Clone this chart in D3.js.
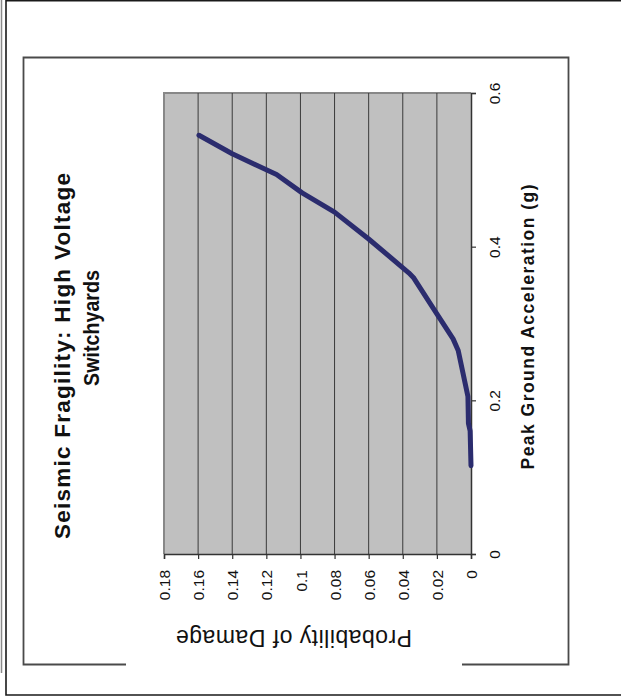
<!DOCTYPE html>
<html>
<head>
<meta charset="utf-8">
<script src="https://cdn.jsdelivr.net/npm/d3@7"></script>
<style>
  html, body { margin: 0; padding: 0; background: #fff; }
  svg { display: block; font-family: "Liberation Sans", Arial, sans-serif; }
</style>
</head>
<body>
<div id="chart"></div>
<script>
// curve: peak ground acceleration (g) vs probability of damage
var pga  = [ 0.115, 0.160, 0.170, 0.205, 0.265, 0.280, 0.320, 0.360, 0.366, 0.410, 0.445, 0.470, 0.494, 0.500, 0.521, 0.545 ];
var prob = [ 0.0000, 0.0005, 0.0015, 0.0018, 0.0075, 0.0105, 0.0222, 0.0338, 0.0365, 0.0600, 0.0800, 0.0990, 0.1140, 0.1200, 0.1400, 0.1595 ];

var probTicks = [ 0, 0.02, 0.04, 0.06, 0.08, 0.1, 0.12, 0.14, 0.16, 0.18 ];
var probLabels = [ '0', '0.02', '0.04', '0.06', '0.08', '0.1', '0.12', '0.14', '0.16', '0.18' ];
var pgaTicks = [ 0, 0.2, 0.4, 0.6 ];
var pgaLabels = [ '0', '0.2', '0.4', '0.6' ];

var titleLines = [ 'Seismic Fragility:  High Voltage', 'Switchyards' ];
var xTitle = 'Peak Ground Acceleration (g)';
var yTitle = 'Probability of Damage';

var sizes = { width: 621, height: 696 };
var plot = { left: 164, right: 471, top: 93, bottom: 554 };

var els = {};
els.svg = d3.select( '#chart' ).append( 'svg' )
	.attr( 'width', sizes.width )
	.attr( 'height', sizes.height );

// outer page frame (no right edge)
els.svg.append( 'line' ).attr( 'x1', 1.5 ).attr( 'x2', 1.5 ).attr( 'y1', 0 ).attr( 'y2', 673 )
	.style( 'stroke', '#8a8a8a' ).style( 'stroke-width', 1.5 );
els.svg.append( 'path' )
	.attr( 'd', 'M621,0.8 H6 V695 H621' )
	.style( 'fill', 'none' ).style( 'stroke', '#1a1a1a' ).style( 'stroke-width', 1.6 );

// chart frame, broken at the bottom where the axis title sits
els.svg.append( 'path' )
	.attr( 'd', 'M126,664.5 H23.5 V57.5 H568.5 V664.5 H462' )
	.style( 'fill', 'none' ).style( 'stroke', '#4a4a4a' ).style( 'stroke-width', 1.8 );

var scales = {};
scales.x = d3.scaleLinear().domain( [ 0.18, 0 ] ).range( [ plot.left, plot.right ] );
scales.y = d3.scaleLinear().domain( [ 0, 0.6 ] ).range( [ plot.bottom, plot.top ] );

// plot area
els.svg.append( 'rect' )
	.attr( 'x', plot.left ).attr( 'y', plot.top )
	.attr( 'width', plot.right - plot.left ).attr( 'height', plot.bottom - plot.top )
	.style( 'fill', '#c0c0c0' );
els.svg.append( 'path' )
	.attr( 'd', 'M' + plot.left + ',' + plot.bottom + ' V' + plot.top + ' H' + plot.right )
	.style( 'fill', 'none' ).style( 'stroke', '#888' ).style( 'stroke-width', 2 );

// gridlines
els.svg.selectAll( 'line.grid' )
	.data( probTicks.filter( function ( d ) { return d > 0 && d < 0.18; } ) )
	.enter()
	.append( 'line' )
	.classed( 'grid', true )
	.attr( 'x1', function ( d ) { return scales.x( d ); } )
	.attr( 'x2', function ( d ) { return scales.x( d ); } )
	.attr( 'y1', plot.top )
	.attr( 'y2', plot.bottom )
	.style( 'stroke', '#3a3a3a' ).style( 'stroke-width', 1 );

// probability axis (bottom in the rotated picture)
var axes = {};
axes.x = d3.axisBottom( scales.x ).tickValues( probTicks ).tickSize( 5 ).tickFormat( function ( d, i ) { return probLabels[ i ]; } );
els.xAxis = els.svg.append( 'g' )
	.attr( 'transform', 'translate(0,' + plot.bottom + ')' )
	.call( axes.x );
els.xAxis.select( '.domain' ).attr( 'stroke', '#333' ).attr( 'stroke-width', 1.5 );
els.xAxis.selectAll( '.tick line' ).attr( 'stroke', '#333' ).attr( 'stroke-width', 1.2 );
els.xAxis.selectAll( '.tick text' )
	.attr( 'x', 0 ).attr( 'y', 0 )
	.attr( 'dy', '0.36em' )
	.attr( 'transform', 'translate(0,16) rotate(-90)' )
	.attr( 'text-anchor', 'end' )
	.attr( 'font-size', 15.5 )
	.attr( 'font-family', '"Liberation Sans", Arial, sans-serif' )
	.attr( 'fill', '#111' );

// acceleration axis (right side in the rotated picture)
axes.y = d3.axisRight( scales.y ).tickValues( pgaTicks ).tickSize( 5 ).tickFormat( function ( d, i ) { return pgaLabels[ i ]; } );
els.yAxis = els.svg.append( 'g' )
	.attr( 'transform', 'translate(' + plot.right + ',0)' )
	.call( axes.y );
els.yAxis.select( '.domain' ).attr( 'stroke', '#333' ).attr( 'stroke-width', 1.5 );
els.yAxis.selectAll( '.tick line' ).attr( 'stroke', '#333' ).attr( 'stroke-width', 1.2 );
els.yAxis.selectAll( '.tick text' )
	.attr( 'x', 0 ).attr( 'dy', 0 )
	.attr( 'transform', 'translate(29,0) rotate(-90)' )
	.attr( 'text-anchor', 'middle' )
	.attr( 'font-size', 15.5 )
	.attr( 'font-family', '"Liberation Sans", Arial, sans-serif' )
	.attr( 'fill', '#111' );

// the curve
var points = pga.map( function ( d, i ) { return [ d, prob[ i ] ]; } );
var line = d3.line()
	.x( function ( d ) { return scales.x( d[ 1 ] ); } )
	.y( function ( d ) { return scales.y( d[ 0 ] ); } );
els.svg.append( 'path' )
	.datum( points )
	.attr( 'd', line )
	.style( 'fill', 'none' )
	.style( 'stroke', '#2b2c6e' )
	.style( 'stroke-width', 5 )
	.style( 'stroke-linecap', 'round' )
	.style( 'stroke-linejoin', 'round' );

// title, reading bottom to top
els.svg.append( 'text' )
	.attr( 'transform', 'translate(70,356) rotate(-90)' )
	.attr( 'text-anchor', 'middle' )
	.attr( 'font-size', 22.5 ).attr( 'font-weight', 'bold' )
	.attr( 'textLength', 366 ).attr( 'lengthAdjust', 'spacing' )
	.attr( 'fill', '#111' )
	.text( titleLines[ 0 ] );
els.svg.append( 'text' )
	.attr( 'transform', 'translate(99,328) rotate(-90)' )
	.attr( 'text-anchor', 'middle' )
	.attr( 'font-size', 22 ).attr( 'font-weight', 'bold' )
	.attr( 'textLength', 116 ).attr( 'lengthAdjust', 'spacingAndGlyphs' )
	.attr( 'fill', '#111' )
	.text( titleLines[ 1 ] );

// axis titles
els.svg.append( 'text' )
	.attr( 'transform', 'translate(534,327) rotate(-90)' )
	.attr( 'text-anchor', 'middle' )
	.attr( 'font-size', 17.5 ).attr( 'font-weight', 'bold' )
	.attr( 'textLength', 285 ).attr( 'lengthAdjust', 'spacing' )
	.attr( 'fill', '#111' )
	.text( xTitle );
els.svg.append( 'text' )
	.attr( 'transform', 'translate(294,630) rotate(180)' )
	.attr( 'text-anchor', 'middle' )
	.attr( 'font-size', 23 )
	.attr( 'textLength', 236 ).attr( 'lengthAdjust', 'spacing' )
	.attr( 'fill', '#111' )
	.text( yTitle );
</script>
</body>
</html>
